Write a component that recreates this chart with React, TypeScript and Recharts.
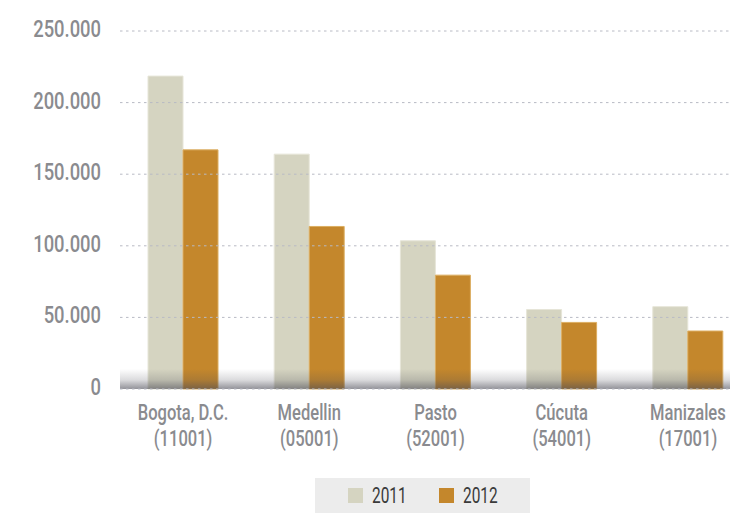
import React from 'react'
import {
  BarChart, Bar, XAxis, YAxis, CartesianGrid, Legend, ReferenceArea,
} from 'recharts'

const ciudades = ['Bogota, D.C.', 'Medellin', 'Pasto', 'Cúcuta', 'Manizales']
const codigos = ['(11001)', '(05001)', '(52001)', '(54001)', '(17001)']
const valores2011 = [218500, 164000, 103500, 55500, 57500]
const valores2012 = [167000, 113500, 79500, 46500, 40500]
const yTicks = [0, 50000, 100000, 150000, 200000, 250000]

const data = ciudades.map((c, i) => ({
  ciudad: c,
  codigo: codigos[i],
  y2011: valores2011[i],
  y2012: valores2012[i],
}))

const FONT = "Roboto, 'Liberation Sans', Arial, sans-serif"
const GRAY_TEXT = '#8a8b8f'
const C2011 = '#d5d4c1'
const C2012 = '#c4872c'

function formatMiles(v: number) {
  return v === 0 ? '0' : v.toLocaleString('de-DE')
}

// texto angosto: se comprime en horizontal para imitar la fuente condensada
function NarrowText({ x, y, anchor, sx, children, size, fill }: any) {
  return (
    <g transform={`translate(${x},${y}) scale(${sx},1)`}>
      <text x={0} y={0} textAnchor={anchor} fontFamily={FONT} fontWeight={500} fontSize={size} fill={fill}>
        {children}
      </text>
    </g>
  )
}

function CityTick(props: any) {
  const { x, y, payload, index } = props
  return (
    <g>
      <NarrowText x={x} y={y + 23} anchor="middle" sx={0.77} size={21.5} fill={GRAY_TEXT}>{payload.value}</NarrowText>
      <NarrowText x={x} y={y + 49} anchor="middle" sx={0.77} size={21.5} fill={GRAY_TEXT}>{codigos[index]}</NarrowText>
    </g>
  )
}

function ValueTick(props: any) {
  const { x, y, payload } = props
  return (
    <NarrowText x={x} y={y + 6} anchor="end" sx={0.8} size={23} fill={GRAY_TEXT}>
      {formatMiles(payload.value)}
    </NarrowText>
  )
}

function LegendBox() {
  const items = [
    { label: '2011', color: C2011 },
    { label: '2012', color: C2012 },
  ]
  return (
    <div style={{
      background: '#ececec', width: 215, height: 35, display: 'flex',
      alignItems: 'center', paddingLeft: 33, boxSizing: 'border-box',
    }}>
      {items.map((it, i) => (
        <div key={it.label} style={{ display: 'flex', alignItems: 'center', width: i === 0 ? 91 : 70 }}>
          <span style={{ width: 15, height: 15, background: it.color, display: 'inline-block', marginRight: 9, flex: 'none' }} />
          <span style={{
            fontFamily: FONT, fontSize: 22, color: '#3a3a3a', display: 'inline-block',
            transform: 'scaleX(0.7)', transformOrigin: 'left center', lineHeight: '22px',
          }}>{it.label}</span>
        </div>
      ))}
    </div>
  )
}

export default function App() {
  return (
    <div style={{ position: 'fixed', left: 0, top: 0, width: 730, height: 513, overflow: 'hidden', background: '#fff' }}>
      <BarChart
        width={751}
        height={513}
        data={data}
        margin={{ top: 31, right: 0, bottom: 0, left: 0 }}
        barCategoryGap={28}
        barGap={0}
      >
        <defs>
          <linearGradient id="sombra" x1="0" y1="0" x2="0" y2="1">
            <stop offset="0%" stopColor="#4a4a55" stopOpacity={0} />
            <stop offset="55%" stopColor="#4a4a55" stopOpacity={0.2} />
            <stop offset="100%" stopColor="#4a4a55" stopOpacity={0.6} />
          </linearGradient>
        </defs>
        <XAxis
          dataKey="ciudad"
          axisLine={false}
          tickLine={false}
          interval={0}
          height={124}
          tick={<CityTick />}
        />
        <YAxis
          width={120}
          domain={[0, 250000]}
          ticks={yTicks}
          axisLine={false}
          tickLine={false}
          tickSize={0}
          tickMargin={19}
          tick={<ValueTick />}
        />
        <Bar dataKey="y2011" name="2011" fill={C2011} stroke="#e6e5d8" strokeWidth={1} isAnimationActive={false} />
        <Bar dataKey="y2012" name="2012" fill={C2012} stroke="#dcae62" strokeWidth={1} isAnimationActive={false} />
        <ReferenceArea y1={0} y2={14000} fill="url(#sombra)" fillOpacity={1} stroke="none" zIndex={350} />
        <CartesianGrid vertical={false} stroke="#b8bac4" strokeDasharray="2.5 3.5" zIndex={360} />
        <Legend
          verticalAlign="middle"
          layout="horizontal"
          content={<LegendBox />}
          wrapperStyle={{ left: 315, top: 478, width: 215, height: 35 }}
        />
      </BarChart>
    </div>
  )
}
